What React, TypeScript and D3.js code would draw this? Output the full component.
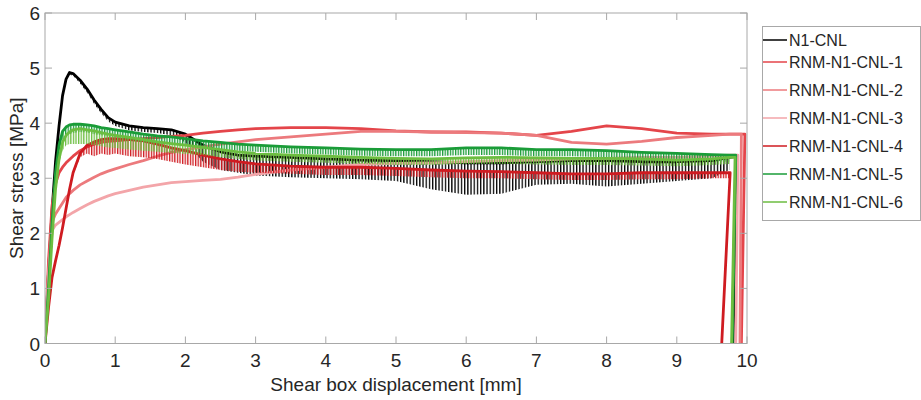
import React from 'react'
import * as d3 from 'd3'

// displacement grid (mm) shared by all tests, tails hold the unloading drop
const gridX = [0, 0.05, 0.1, 0.15, 0.2, 0.25, 0.3, 0.35, 0.4, 0.5, 0.6, 0.7, 0.8, 0.9, 1.0, 1.2, 1.4, 1.6, 1.8, 2.0, 2.25, 2.5, 2.75, 3.0, 3.5, 4.0, 4.5, 5.0, 5.5, 6.0, 6.5, 7.0, 7.5, 8.0, 8.5, 9.0, 9.5, 9.75]

const n1Y = [0, 1.3, 2.4, 3.3, 3.95, 4.5, 4.8, 4.92, 4.9, 4.78, 4.62, 4.42, 4.25, 4.1, 4.02, 3.95, 3.92, 3.9, 3.88, 3.8, 3.6, 3.48, 3.42, 3.4, 3.38, 3.35, 3.33, 3.32, 3.3, 3.28, 3.28, 3.3, 3.32, 3.32, 3.3, 3.3, 3.32, 3.38]
const n1Lo = [0, 1.3, 2.4, 3.3, 3.95, 4.5, 4.78, 4.88, 4.86, 4.72, 4.55, 4.35, 4.18, 4.03, 3.95, 3.87, 3.84, 3.82, 3.78, 3.65, 3.3, 3.15, 3.1, 3.05, 3.02, 3.0, 2.98, 2.95, 2.8, 2.7, 2.72, 2.88, 2.9, 2.85, 2.9, 2.95, 3.0, 3.15]
const n1TailX = [9.86, 9.8]
const n1TailY = [3.4, 0]

const r1Y = [0, 1.5, 2.5, 2.9, 3.1, 3.2, 3.28, 3.34, 3.4, 3.5, 3.57, 3.62, 3.65, 3.67, 3.68, 3.7, 3.72, 3.74, 3.76, 3.78, 3.82, 3.85, 3.88, 3.9, 3.92, 3.92, 3.9, 3.86, 3.84, 3.84, 3.82, 3.78, 3.85, 3.95, 3.9, 3.82, 3.8, 3.8]
const r1TailX = [9.97, 9.92]
const r1TailY = [3.8, 0]

const r2Y = [0, 1.3, 2.2, 2.35, 2.45, 2.55, 2.65, 2.72, 2.78, 2.88, 2.95, 3.02, 3.08, 3.13, 3.17, 3.25, 3.32, 3.4, 3.47, 3.52, 3.57, 3.62, 3.66, 3.7, 3.75, 3.8, 3.85, 3.85, 3.84, 3.83, 3.82, 3.78, 3.65, 3.62, 3.67, 3.74, 3.78, 3.8]
const r2TailX = [9.92, 9.9]
const r2TailY = [3.8, 0]

const r3Y = [0, 1.2, 2.05, 2.15, 2.2, 2.25, 2.3, 2.34, 2.38, 2.45, 2.52, 2.58, 2.63, 2.68, 2.72, 2.78, 2.84, 2.88, 2.92, 2.94, 2.96, 2.98, 3.02, 3.07, 3.15, 3.2, 3.25, 3.27, 3.28, 3.3, 3.32, 3.33, 3.35, 3.36, 3.38, 3.38, 3.4, 3.42]
const r3TailX = [9.87, 9.84]
const r3TailY = [3.42, 0]

const r4Y = [0, 0.65, 1.2, 1.5, 1.78, 2.1, 2.45, 2.8, 3.1, 3.45, 3.6, 3.66, 3.7, 3.72, 3.72, 3.7, 3.68, 3.62, 3.55, 3.5, 3.42, 3.35, 3.3, 3.26, 3.22, 3.2, 3.2, 3.18, 3.15, 3.13, 3.12, 3.1, 3.08, 3.08, 3.1, 3.1, 3.1, 3.1]
const r4Lo = [0, 0.6, 1.15, 1.45, 1.72, 2.05, 2.4, 2.75, 3.05, 3.38, 3.45, 3.4, 3.45, 3.42, 3.45, 3.4, 3.38, 3.35, 3.3, 3.25, 3.2, 3.15, 3.12, 3.1, 3.08, 3.06, 3.06, 3.04, 3.02, 3.0, 3.0, 2.98, 2.97, 2.97, 2.98, 2.98, 3.0, 3.0]
const r4TailX = [9.76, 9.64]
const r4TailY = [3.1, 0]

const r5Y = [0, 1.0, 2.2, 3.1, 3.6, 3.85, 3.93, 3.97, 3.98, 3.98, 3.97, 3.95, 3.92, 3.9, 3.88, 3.84, 3.8, 3.77, 3.75, 3.72, 3.68, 3.65, 3.62, 3.6, 3.57, 3.55, 3.53, 3.52, 3.52, 3.55, 3.55, 3.52, 3.52, 3.5, 3.47, 3.45, 3.43, 3.42]
const r5Lo = [0, 1.0, 2.2, 3.05, 3.5, 3.7, 3.78, 3.8, 3.82, 3.84, 3.83, 3.8, 3.78, 3.75, 3.74, 3.7, 3.66, 3.63, 3.62, 3.6, 3.56, 3.53, 3.5, 3.48, 3.45, 3.43, 3.41, 3.4, 3.4, 3.42, 3.42, 3.4, 3.4, 3.38, 3.35, 3.33, 3.31, 3.3]
const r5TailX = [9.84, 9.79]
const r5TailY = [3.42, 0]

const r6Y = [0, 0.8, 1.9, 2.8, 3.35, 3.65, 3.78, 3.84, 3.88, 3.9, 3.88, 3.86, 3.83, 3.8, 3.78, 3.74, 3.7, 3.66, 3.63, 3.6, 3.56, 3.52, 3.48, 3.45, 3.42, 3.4, 3.38, 3.36, 3.35, 3.37, 3.38, 3.37, 3.36, 3.36, 3.35, 3.33, 3.35, 3.38]
const r6Lo = [0, 0.8, 1.9, 2.75, 3.25, 3.5, 3.6, 3.62, 3.62, 3.62, 3.62, 3.6, 3.58, 3.56, 3.55, 3.52, 3.5, 3.48, 3.46, 3.44, 3.42, 3.38, 3.35, 3.32, 3.3, 3.28, 3.26, 3.24, 3.24, 3.26, 3.26, 3.25, 3.24, 3.24, 3.23, 3.22, 3.24, 3.26]
const r6TailX = [9.83, 9.78]
const r6TailY = [3.38, 0]

const names = ['N1-CNL', 'RNM-N1-CNL-1', 'RNM-N1-CNL-2', 'RNM-N1-CNL-3', 'RNM-N1-CNL-4', 'RNM-N1-CNL-5', 'RNM-N1-CNL-6']
const colors = ['#000000', '#e4454a', '#ec7a7d', '#f3a5a9', '#cf1b21', '#1a9c38', '#6cbd40']
const xTicks = [0, 1, 2, 3, 4, 5, 6, 7, 8, 9, 10]
const yTicks = [0, 1, 2, 3, 4, 5, 6]

const series = [
  { y: n1Y, lo: n1Lo, tx: n1TailX, ty: n1TailY },
  { y: r1Y, lo: null, tx: r1TailX, ty: r1TailY },
  { y: r2Y, lo: null, tx: r2TailX, ty: r2TailY },
  { y: r3Y, lo: null, tx: r3TailX, ty: r3TailY },
  { y: r4Y, lo: r4Lo, tx: r4TailX, ty: r4TailY },
  { y: r5Y, lo: r5Lo, tx: r5TailX, ty: r5TailY },
  { y: r6Y, lo: r6Lo, tx: r6TailX, ty: r6TailY },
]

const W = 921
const H = 400
const left = 45
const right = 747
const top = 13
const bottom = 343.5
const axisColor = '#a8a8a8'
const textColor = '#262626'
const font = 'Arial, "Liberation Sans", sans-serif'

export default function App() {
  const x = d3.scaleLinear().domain([0, 10]).range([left, right])
  const y = d3.scaleLinear().domain([0, 6]).range([bottom, top])

  const line = d3.line<[number, number]>().x(d => x(d[0])).y(d => y(d[1]))
  const band = d3.area<number>().x((d, i) => x(gridX[i]))

  const legendRows = [40, 62, 90, 118, 146, 174, 202]

  return (
    <svg width={W} height={H} style={{ position: 'absolute', left: 0, top: 0 }} fontFamily={font}>
      <rect width={W} height={H} fill="#fff" />
      <defs>
        <clipPath id="plot">
          <rect x={left} y={top} width={right - left} height={bottom - top} />
        </clipPath>
        {/* vertical hatching stands in for the dense stick-slip spikes */}
        {colors.map((c, k) => (
          <pattern key={k} id={'noise' + k} width={k === 0 ? 3.2 : 2.6} height={8} patternUnits="userSpaceOnUse">
            <rect x={0} y={0} width={1.3} height={8} fill={c} />
          </pattern>
        ))}
      </defs>

      <g clipPath="url(#plot)">
        {series.map((s, k) => {
          const pts: [number, number][] = gridX.map((gx, i) => [gx, s.y[i]] as [number, number])
          s.tx.forEach((tx, i) => pts.push([tx, s.ty[i]]))
          const area = s.lo
            ? band.y0((d, i) => y(s.lo![i])).y1((d, i) => y(s.y[i]))(s.y)
            : null
          return (
            <g key={k}>
              {area && <path d={area!} fill={`url(#noise${k})`} />}
              <path d={line(pts)!} fill="none" stroke={colors[k]} strokeWidth={2.8} strokeLinejoin="round" />
            </g>
          )
        })}
      </g>

      {/* axes box */}
      <rect x={left} y={top} width={right - left} height={bottom - top} fill="none" stroke={axisColor} strokeWidth={1} />
      {xTicks.map(t => (
        <g key={'x' + t}>
          <line x1={x(t)} x2={x(t)} y1={bottom} y2={bottom - 7} stroke={axisColor} />
          <line x1={x(t)} x2={x(t)} y1={top} y2={top + 7} stroke={axisColor} />
          <text x={x(t)} y={367} textAnchor="middle" fontSize={19} fill={textColor}>{t}</text>
        </g>
      ))}
      {yTicks.map(t => (
        <g key={'y' + t}>
          <line x1={left} x2={left + 7} y1={y(t)} y2={y(t)} stroke={axisColor} />
          <line x1={right} x2={right - 7} y1={y(t)} y2={y(t)} stroke={axisColor} />
          <text x={40} y={y(t) + 7} textAnchor="end" fontSize={19} fill={textColor}>{t}</text>
        </g>
      ))}
      <text x={(left + right) / 2} y={391} textAnchor="middle" fontSize={19} fill={textColor}>
        Shear box displacement [mm]
      </text>
      <text
        transform={`translate(23, ${(top + bottom) / 2}) rotate(-90)`}
        textAnchor="middle"
        fontSize={19}
        fill={textColor}
      >
        Shear stress [MPa]
      </text>

      {/* legend */}
      <rect x={762.5} y={26.5} width={158} height={194} fill="#fff" stroke={axisColor} />
      {names.map((n, k) => (
        <g key={n}>
          <line x1={763} x2={787} y1={legendRows[k]} y2={legendRows[k]} stroke={colors[k]} strokeWidth={1.5} />
          <text x={789} y={legendRows[k] + 6} fontSize={16} fill={textColor}>{n}</text>
        </g>
      ))}
    </svg>
  )
}
